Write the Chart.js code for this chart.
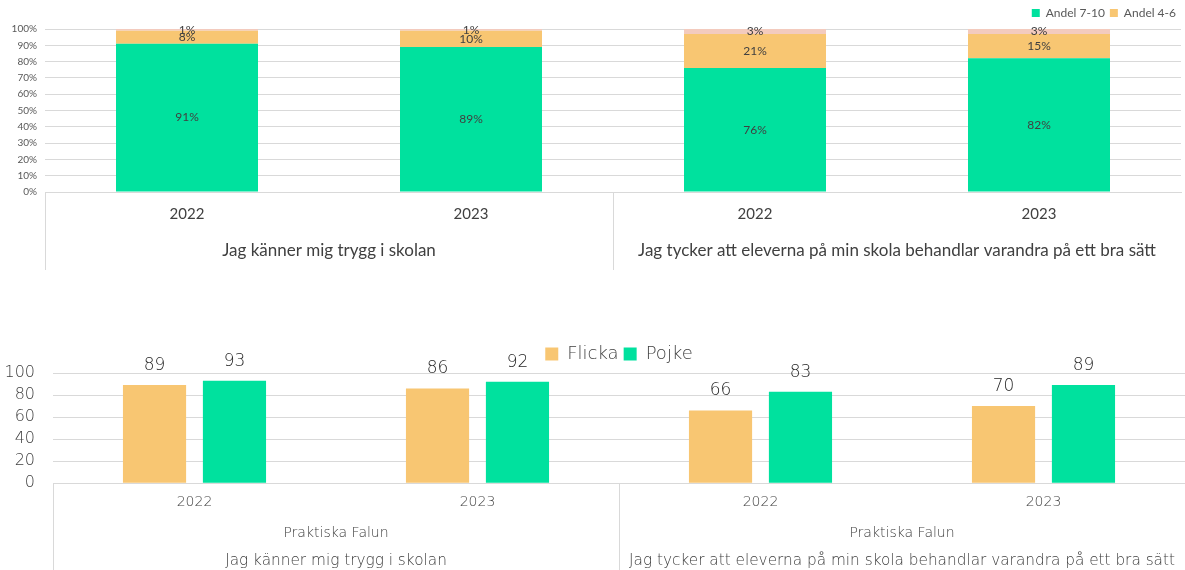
<!DOCTYPE html>
<html>
<head>
<meta charset="utf-8">
<script src="https://cdn.jsdelivr.net/npm/chart.js@4.4.1/dist/chart.umd.min.js"></script>
<style>
    body { margin: 0; background: #fff; }
    #top { position: absolute; left: 0; top: 0; width: 1185px; height: 285px; }
    #bottom { position: absolute; left: 0; top: 340px; width: 1185px; height: 230px; }
</style>
</head>
<body>
<div id="top"><canvas id="graph-1"></canvas></div>
<div id="bottom"><canvas id="graph-2"></canvas></div>
<script>
// Data
const years = ["2022", "2023", "2022", "2023"];
const questions = ["Jag känner mig trygg i skolan", "Jag tycker att eleverna på min skola behandlar varandra på ett bra sätt"];
const school = "Praktiska Falun";

const andel710 = [91, 89, 76, 82];
const andel46 = [8, 10, 21, 15];
const andel13 = [1, 1, 3, 3];

const flicka = [89, 86, 66, 70];
const pojke = [93, 92, 83, 89];

const GREEN = "#00E19E";
const ORANGE = "#F8C672";
const PINK = "#F3CBBE";
const GRID = "#D9D9D9";

// Labels on the bars (no datalabels plugin available)
const valueLabels = {
    id: "valueLabels",
    afterDatasetsDraw(chart, args, opts) {
        const ctx = chart.ctx;
        ctx.save();
        ctx.font = opts.font;
        ctx.fillStyle = opts.color;
        ctx.textAlign = "center";
        chart.data.datasets.forEach((ds, i) => {
            const meta = chart.getDatasetMeta(i);
            meta.data.forEach((bar, j) => {
                const text = ds.data[j] + (opts.suffix || "");
                if (opts.position === "center") {
                    ctx.textBaseline = "middle";
                    ctx.fillText(text, bar.x, (bar.y + bar.base) / 2);
                } else {
                    ctx.textBaseline = "bottom";
                    ctx.fillText(text, bar.x, bar.y - opts.offset);
                }
            });
        });
        ctx.restore();
    }
};

// Second level of the category axis (question groups)
const groupAxis = {
    id: "groupAxis",
    afterDraw(chart, args, opts) {
        const ctx = chart.ctx;
        const x = chart.scales.x;
        const bottom = chart.chartArea.bottom;
        const step = x.getPixelForValue(1) - x.getPixelForValue(0);
        ctx.save();
        ctx.strokeStyle = GRID;
        ctx.lineWidth = 1;
        ctx.fillStyle = opts.color;
        ctx.textAlign = "center";
        ctx.textBaseline = "middle";
        opts.groups.forEach((lines, i) => {
            const left = x.getPixelForValue(i * opts.size) - step / 2;
            const right = x.getPixelForValue(i * opts.size + opts.size - 1) + step / 2;
            const lx = Math.round(left) + 0.5;
            ctx.beginPath();
            ctx.moveTo(lx, bottom);
            ctx.lineTo(lx, bottom + opts.lineLength);
            ctx.stroke();
            lines.forEach((line, k) => {
                ctx.font = opts.fonts[k];
                ctx.fillText(line, (left + right) / 2, bottom + opts.rows[k]);
            });
        });
        ctx.restore();
    }
};

function renderGraph1() {
    const ctx = document.getElementById("graph-1").getContext("2d");
    new Chart(ctx, {
        type: "bar",
        data: {
            labels: years,
            datasets: [
                { label: "Andel 7-10", data: andel710, backgroundColor: GREEN },
                { label: "Andel 4-6", data: andel46, backgroundColor: ORANGE },
                { label: "Andel 1-3", data: andel13, backgroundColor: PINK }
            ]
        },
        options: {
            responsive: true,
            maintainAspectRatio: false,
            animation: false,
            layout: { padding: { top: 2, right: 4, bottom: 49, left: 0 } },
            datasets: { bar: { categoryPercentage: 1, barPercentage: 0.5 } },
            scales: {
                x: {
                    stacked: true,
                    grid: { display: false, drawTicks: false },
                    border: { display: true, color: GRID },
                    ticks: { padding: 13, color: "#404040", font: { family: "Lato", size: 15 } }
                },
                y: {
                    stacked: true,
                    min: 0,
                    max: 100,
                    afterFit: scale => { scale.width = 45; },
                    grid: { color: GRID, drawTicks: false },
                    border: { display: false },
                    ticks: {
                        stepSize: 10,
                        autoSkip: false,
                        padding: 8,
                        color: "#595959",
                        font: { family: "Lato", size: 10 },
                        callback: v => v + "%"
                    }
                }
            },
            plugins: {
                tooltip: { enabled: false },
                legend: {
                    position: "top",
                    align: "end",
                    labels: {
                        boxWidth: 8,
                        boxHeight: 8,
                        padding: 5,
                        color: "#595959",
                        font: { family: "Lato", size: 12 },
                        filter: item => item.datasetIndex < 2
                    }
                },
                valueLabels: { position: "center", suffix: "%", font: "12px Lato", color: "#404040" },
                groupAxis: {
                    groups: [[questions[0]], [questions[1]]],
                    size: 2,
                    lineLength: 78,
                    rows: [59],
                    fonts: ["17px Lato"],
                    color: "#404040"
                }
            }
        },
        plugins: [valueLabels, groupAxis]
    });
}

function renderGraph2() {
    const ctx = document.getElementById("graph-2").getContext("2d");
    new Chart(ctx, {
        type: "bar",
        data: {
            labels: years,
            datasets: [
                { label: "Flicka", data: flicka, backgroundColor: ORANGE },
                { label: "Pojke", data: pojke, backgroundColor: GREEN }
            ]
        },
        options: {
            responsive: true,
            maintainAspectRatio: false,
            animation: false,
            layout: { padding: { top: 0, right: 0, bottom: 48, left: 0 } },
            datasets: { bar: { categoryPercentage: 0.565, barPercentage: 0.79 } },
            scales: {
                x: {
                    grid: { display: false, drawTicks: false },
                    border: { display: true, color: GRID },
                    ticks: { padding: 11, color: "#404040", font: { family: "DejaVu Sans", size: 14, weight: "300" } }
                },
                y: {
                    min: 0,
                    max: 100,
                    afterFit: scale => { scale.width = 53; },
                    grid: { color: GRID, drawTicks: false },
                    border: { display: false },
                    ticks: {
                        stepSize: 20,
                        autoSkip: false,
                        padding: 18,
                        color: "#404040",
                        font: { family: "DejaVu Sans", size: 16, weight: "300" }
                    }
                }
            },
            plugins: {
                tooltip: { enabled: false },
                legend: {
                    position: "top",
                    fullSize: false,
                    labels: {
                        boxWidth: 13,
                        boxHeight: 13,
                        padding: 5,
                        color: "#404040",
                        font: { family: "DejaVu Sans", size: 18, weight: "300" }
                    }
                },
                valueLabels: { position: "top", offset: 11, font: "300 17px 'DejaVu Sans'", color: "#262626" },
                groupAxis: {
                    groups: [[school, questions[0]], [school, questions[1]]],
                    size: 2,
                    lineLength: 90,
                    rows: [50, 78],
                    fonts: ["300 14px 'DejaVu Sans'", "300 15.3px 'DejaVu Sans'"],
                    color: "#404040"
                }
            }
        },
        plugins: [valueLabels, groupAxis]
    });
}

renderGraph1();
renderGraph2();
</script>
</body>
</html>
